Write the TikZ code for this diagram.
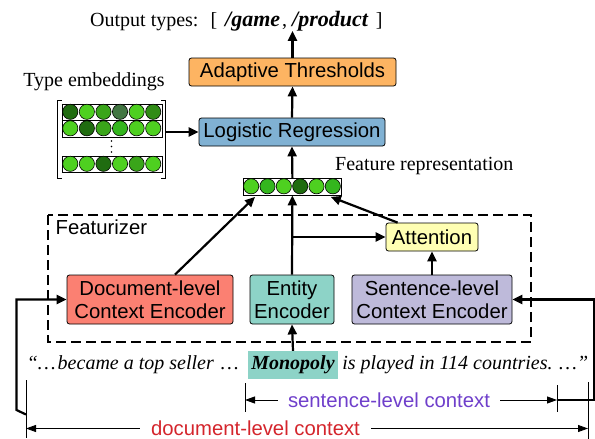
\documentclass[tikz,border=0pt]{standalone}
\usepackage{fontspec}
\setmainfont{Liberation Serif}
\setsansfont{Liberation Sans}
\usetikzlibrary{arrows.meta,calc}
\definecolor{cOrange}{HTML}{FDB462}
\definecolor{cBlue}{HTML}{80B1D3}
\definecolor{cRed}{HTML}{FB8072}
\definecolor{cTeal}{HTML}{8DD3C7}
\definecolor{cLav}{HTML}{BEBADA}
\definecolor{cYel}{HTML}{FFFFB3}
\definecolor{tPurple}{HTML}{6F3FCB}
\definecolor{tRed}{HTML}{D4252C}
\definecolor{gA}{RGB}{78,208,32}
\definecolor{gB}{RGB}{58,165,26}
\definecolor{gC}{RGB}{32,108,16}
\definecolor{gD}{RGB}{66,118,66}
\definecolor{gE}{RGB}{52,182,30}
\definecolor{gF}{RGB}{48,140,22}
\newcommand{\vecrow}[5]{% name, x left, y top, width, colours
  \node[rowbox, minimum width=#4pt, anchor=north west] (#1) at (#2,#3) {};
  \foreach \c [count=\i] in {#5} {
    \fill[\c, draw=black, line width=0.6pt] ({#2+(\i-0.5)*#4/6},{#3+8.3}) circle (7.6);
  }
}
\newcommand{\bigbi}[1]{{\fontsize{22}{23}\selectfont\bfseries\itshape #1}}
\begin{document}
\begin{tikzpicture}[x=1pt,y=-1pt,
  box/.style={draw, line width=0.8pt, rounded corners=2.5pt, align=center, inner sep=0pt,
    font=\sffamily\fontsize{20.3}{23}\selectfont},
  rowbox/.style={draw, line width=0.8pt, fill=white, minimum height=16.6pt, inner sep=0pt},
  arr/.style={line width=2.2pt, -{Triangle[length=10pt,width=9pt]}},
  thinarr/.style={line width=0.9pt, -{Triangle[length=10pt,width=7pt]}},
  serif/.style={font=\rmfamily\fontsize{20}{23}\selectfont, inner sep=0pt},
  ]
\useasboundingbox (0,0) rectangle (595,439);

% top text
\node[serif, anchor=base west] (out) at (90,27) {Output types:\hspace{12pt}[\hspace{8pt}\bigbi{/game}\hspace{2pt},\hspace{5pt}\bigbi{/product}\hspace{8pt}]};

% boxes
\node[box, fill=cOrange, minimum width=207pt, minimum height=28pt] (at) at (292.5,72) {Adaptive Thresholds};
\node[box, fill=cBlue, minimum width=186pt, minimum height=28pt] (lr) at (292,132) {Logistic Regression};

% type embeddings
\node[serif] (tetxt) at (94,82) {Type embeddings};
\node[minimum width=109pt, minimum height=78pt, inner sep=0pt] (emb) at (111.5,139) {};
\draw[line width=0.9pt] (62,100) -- (57.5,100) -- (57.5,178) -- (62,178);
\draw[line width=0.9pt] (161,100) -- (165.5,100) -- (165.5,178) -- (161,178);
\vecrow{r1}{62}{103.5}{99.5}{gC,gA,gB,gD,gA,gF}
\vecrow{r2}{62}{120}{99.5}{gA,gC,gB,gE,gA,gA}
\vecrow{r3}{62}{155.5}{99.5}{gA,gA,gC,gA,gB,gA}
\foreach \yy in {141,146.5,152} \fill (111.5,\yy) circle (0.9);

% feature vector
\vecrow{fv}{243}{178}{98}{gA,gE,gA,gC,gA,gE}
\node[serif, anchor=west] (fr) at (335,166) {Feature representation};

% featurizer
\draw[line width=1.3pt, dash pattern=on 10pt off 5pt] (48,215) rectangle (531,342);
\node[font=\sffamily\fontsize{20.3}{23}\selectfont, anchor=base west, inner sep=0pt] (fz) at (55.5,234) {Featurizer};

\node[box, fill=cRed, minimum width=166pt, minimum height=49pt] (doc) at (150,299.5) {Document-level\\Context Encoder};
\node[box, fill=cTeal, minimum width=84pt, minimum height=49pt] (ent) at (292,299.5) {Entity\\Encoder};
\node[box, fill=cLav, minimum width=160pt, minimum height=49pt] (sen) at (432,299.5) {Sentence-level\\Context Encoder};
\node[box, fill=cYel, minimum width=92pt, minimum height=28pt] (att) at (432,237) {Attention};

% sentence
\node[fill=cTeal, minimum width=90pt, minimum height=28pt, inner sep=0pt,
  font=\rmfamily\fontsize{20}{23}\selectfont] (mono) at (293,365) {\textbf{\textit{Monopoly}}};
\node[serif, anchor=base east] (lefttxt) at ($(mono.base west)+(-9,0)$) {\textit{“…\hspace{2pt}became a top seller\hspace{2pt} …}};
\node[serif, anchor=base west] (righttxt) at ($(mono.base east)+(4,0)$) {\textit{is played in 114 countries. …”}};

% connectors
\draw[arr] (at.north) -- ($(at.north |- out.south)+(0,-1)$);
\draw[arr] (lr.north) -- (at.south);
\draw[arr] (fv.north) -- (lr.south);
\draw[arr] (lr.west -| emb.east) -- (lr.west);
\draw[arr] ($(doc.north)+(25,0)$) -- ($(fv.south west)+(12,1.5)$);
\draw[arr] (ent.north) -- (fv.south);
\draw[arr] (ent.north |- att.west) -- (att.west);
\draw[arr] ($(att.north west)+(12,0)$) -- ($(fv.south east)+(-11,1.5)$);
\draw[arr] (sen.north) -- (att.south);
\draw[arr] (mono.north) -- (ent.south);

% context spans
\coordinate (sl) at (245,400);
\coordinate (sr) at (557,400);
\coordinate (dl) at (26,428.5);
\coordinate (dr) at (588,428.5);
\draw[line width=0.9pt] (245,383) -- (245,412);
\draw[line width=0.9pt] (557,385) -- (557,412);
\draw[line width=0.9pt] (26,380) -- (26,438);
\draw[line width=0.9pt] (588,382) -- (588,439);
\node[font=\sffamily\fontsize{20.3}{23}\selectfont, text=tPurple, inner xsep=10pt, inner ysep=0pt] (sctx) at (389,400) {sentence-level context};
\node[font=\sffamily\fontsize{20.3}{23}\selectfont, text=tRed, inner xsep=11pt, inner ysep=0pt] (dctx) at (255.5,428.5) {document-level context};
\draw[thinarr] (sctx.west) -- (sl);
\draw[thinarr] (sctx.east) -- (sr);
\draw[thinarr] (dctx.west) -- (dl);
\draw[thinarr] (dctx.east) -- (dr);

\coordinate (dlk) at (26,414.5);
\draw[arr] (dlk) -- (16.5,410) -- (16.5,299.5) -- (doc.west);
\draw[arr] (sr) -- (593.8,400) -- (593.8,299.5) -- (sen.east);
\end{tikzpicture}
\end{document}
